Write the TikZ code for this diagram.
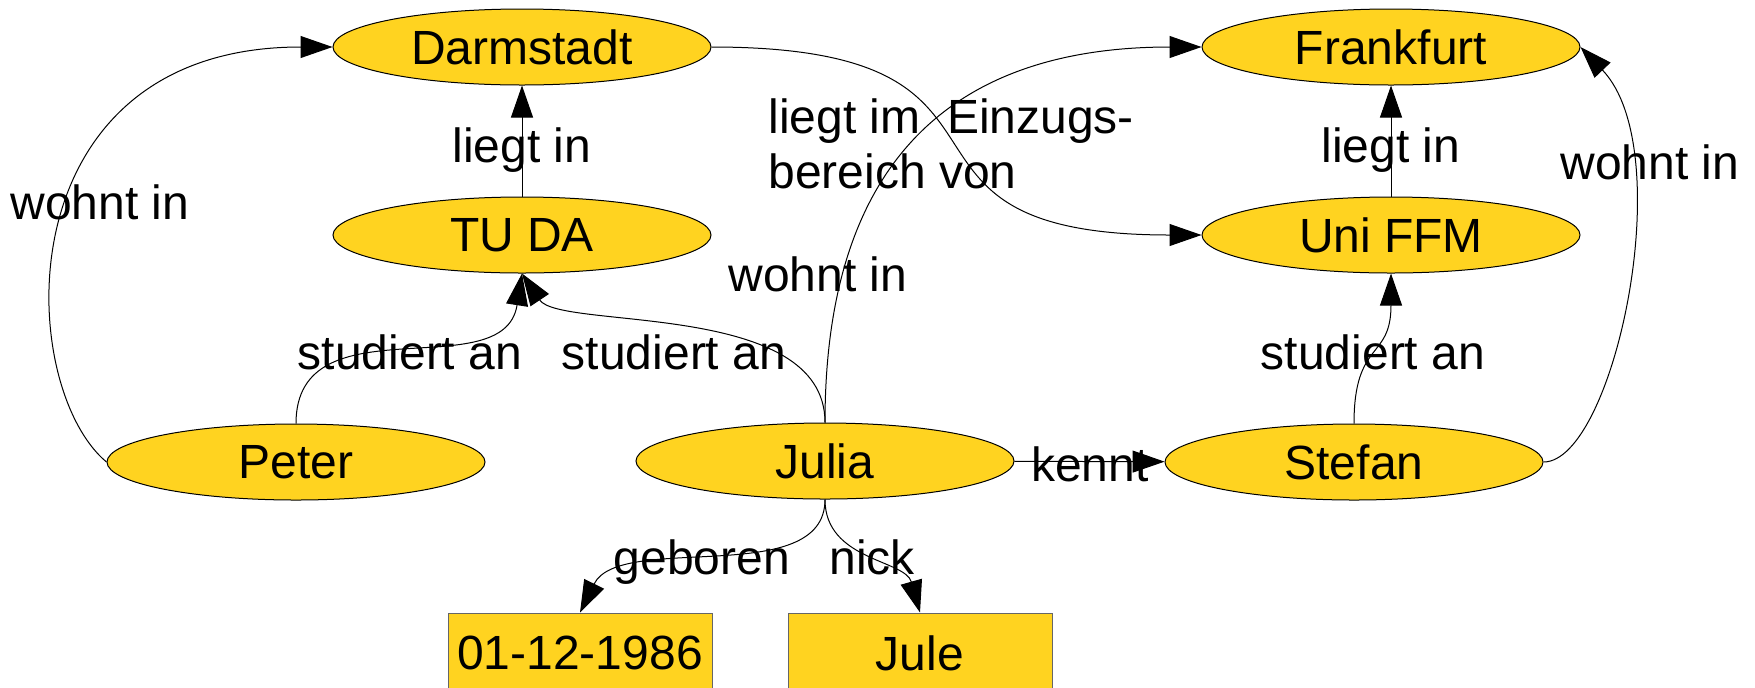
\documentclass[tikz,border=0pt]{standalone}
\usepackage{fontspec}
\setmainfont{Liberation Sans}
\usetikzlibrary{shapes.geometric,arrows.meta}
\definecolor{knoten}{HTML}{FFD320}
\tikzset{
	entity/.style={ellipse, draw=black, fill=knoten, line width=0.5pt, minimum width=189pt, minimum height=38pt, inner sep=0pt},
	literal/.style={rectangle, draw=black!60, fill=knoten, line width=0.5pt, minimum width=132pt, minimum height=40pt, inner sep=0pt},
	rel/.style={line width=0.5pt, -{Triangle[length=16pt,width=11pt]}},
	lbl/.style={anchor=base, inner sep=0pt}
}

\begin{document}
\begin{tikzpicture}[x=0.5pt, y=-0.5pt, font=\fontsize{24}{28}\selectfont]
			%%%%% START %%%%%
			\useasboundingbox (0, 0) rectangle (1755, 687);
			\clip (0, 0) rectangle (1755, 687);
			
			% orte und unis
			\node[entity] (darmstadt) at (522, 47) {Darmstadt};
			\node[entity] (tuda) at (522, 235) {TU DA};
			\node[entity] (frankfurt) at (1391, 47) {Frankfurt};
			\node[entity] (uniffm) at (1391, 235) {Uni FFM};
			
			% personen
			\node[entity] (peter) at (296, 462) {Peter};
			\node[entity] (julia) at (825, 461) {Julia};
			\node[entity] (stefan) at (1354, 462) {Stefan};
			
			% literale
			\node[literal] (datum) at (580, 653) {01-12-1986};
			\node[literal] (jule) at (920, 653) {Jule};
			
			% kanten
			\draw[rel] (peter.west) .. controls +(-92, -77) and +(-330, 0) .. (darmstadt.west);
			\draw[rel] (tuda) -- (darmstadt);
			\draw[rel] (uniffm) -- (frankfurt);
			\draw[rel] (darmstadt.east) .. controls +(352, 0) and +(-352, 0) .. (uniffm.west);
			\draw[rel] (julia.north) .. controls +(0, -260) and +(-250, 0) .. (frankfurt.west);
			\draw[rel] (stefan.east) .. controls +(70, 0) and +(100, 105) .. (frankfurt.east);
			
			\draw[rel] (peter.north) .. controls +(0, -124) and +(-18, 115) .. (tuda.south);
			\draw[rel] (julia.north) .. controls +(0, -123) and +(38, 57) .. (tuda.south);
			\draw[rel] (stefan.north) .. controls +(0, -84) and +(0, 87) .. (uniffm.south);
			
			\draw[rel] (julia) -- (stefan);
			\draw[rel] (julia.south) .. controls +(0, 90) and +(40, -81) .. (datum.north);
			\draw[rel] (julia.south) .. controls +(0, 61) and +(-15, -53) .. (jule.north);
			
			% beschriftungen
			\node[lbl] (wohntPeter) at (100, 219) {wohnt in};
			\node[lbl] (liegtDA) at (522, 162) {liegt in};
			\node[lbl] (liegtFFM) at (1391, 162) {liegt in};
			\node[lbl, anchor=base west] (einzugA) at (768, 133) {liegt im\ \ Einzugs-};
			\node[lbl, anchor=base west] (einzugB) at (768, 188) {bereich von};
			\node[lbl] (wohntJulia) at (818, 291) {wohnt in};
			\node[lbl] (wohntStefan) at (1650, 179) {wohnt in};
			\node[lbl] (studPeter) at (410, 369) {studiert an};
			\node[lbl] (studJulia) at (674, 369) {studiert an};
			\node[lbl] (studStefan) at (1373, 369) {studiert an};
			\node[lbl] (kennt) at (1090, 481) {kennt};
			\node[lbl] (geboren) at (702, 574) {geboren};
			\node[lbl] (nick) at (872, 574) {nick};
			
			%%%%% END %%%%%
\end{tikzpicture}
\end{document}
